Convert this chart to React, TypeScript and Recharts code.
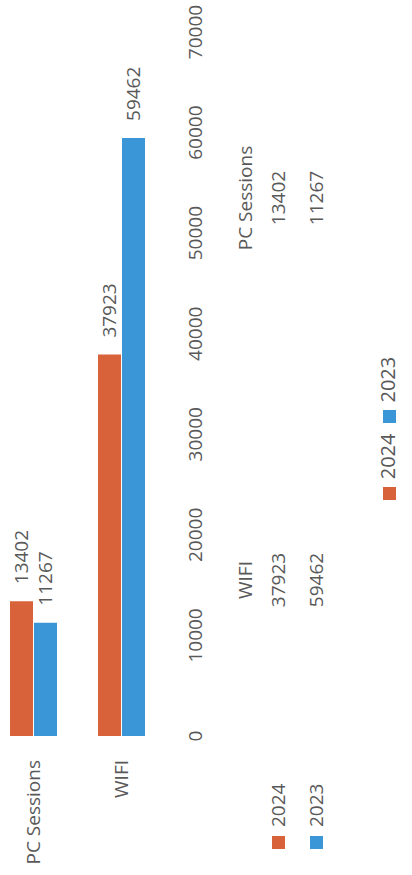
import React from 'react';
import { BarChart, Bar, XAxis, YAxis, Legend, LabelList } from 'recharts';

// ---- data ----
const categories = ['WIFI', 'PC Sessions'];
const values2024 = [37923, 13402];
const values2023 = [59462, 11267];
const seriesNames = ['2024', '2023'];
const valueTicks = [0, 10000, 20000, 30000, 40000, 50000, 60000, 70000];

const COLORS = ['#D8633B', '#3A96D6'];
const TEXT = '#595959';
const FONT = '"Open Sans", "DejaVu Sans", sans-serif';

const data = categories.map((c, i) => ({
  name: c,
  v2024: values2024[i],
  v2023: values2023[i],
}));

const seriesValues = [values2024, values2023];

// data table layout (landscape coordinates)
const tableColX = [295, 677];
const tableRowY = [245, 278, 316];

function DataTable() {
  return (
    <svg
      width={875}
      height={412}
      style={{ position: 'absolute', left: 0, top: 0, pointerEvents: 'none' }}
    >
      {categories.map((c, i) => (
        <text
          key={'h' + c}
          x={tableColX[i]}
          y={tableRowY[0]}
          dy="0.36em"
          textAnchor="middle"
          fontSize={19}
          fill={TEXT}
          fontFamily={FONT}
        >
          {c}
        </text>
      ))}
      {seriesNames.map((s, si) => (
        <g key={'r' + s}>
          <rect x={26} y={tableRowY[si + 1] - 6} width={13} height={13} fill={COLORS[si]} />
          <text
            x={48}
            y={tableRowY[si + 1]}
            dy="0.36em"
            fontSize={19}
            fill={TEXT}
            fontFamily={FONT}
          >
            {s}
          </text>
          {seriesValues[si].map((v, ci) => (
            <text
              key={'v' + ci}
              x={tableColX[ci]}
              y={tableRowY[si + 1]}
              dy="0.36em"
              textAnchor="middle"
              fontSize={19}
              fill={TEXT}
              fontFamily={FONT}
            >
              {v}
            </text>
          ))}
        </g>
      ))}
    </svg>
  );
}

export default function App() {
  return (
    <div
      style={{
        position: 'absolute',
        left: 0,
        top: 0,
        width: 412,
        height: 875,
        overflow: 'hidden',
        background: '#fff',
        fontFamily: FONT,
      }}
    >
      <div
        style={{
          position: 'absolute',
          left: 0,
          top: 0,
          width: 875,
          height: 412,
          transformOrigin: '0 0',
          transform: 'translate(0px, 875px) rotate(-90deg)',
        }}
      >
        <div style={{ position: 'absolute', left: 0, top: -11 }}>
          <BarChart
            width={875}
            height={423}
            data={data}
            layout="vertical"
            margin={{ top: 0, right: 32, left: 0, bottom: 203 }}
            barSize={23}
            barGap={1}
          >
            <XAxis
              type="number"
              domain={[0, 70000]}
              ticks={valueTicks}
              axisLine={false}
              tickLine={false}
              tickSize={0}
              tickMargin={24}
              height={44}
              interval={0}
              tick={{ fontSize: 19, fill: TEXT, fontFamily: FONT }}
            />
            <YAxis
              type="category"
              dataKey="name"
              reversed
              width={139}
              axisLine={false}
              tickLine={false}
              tickSize={0}
              tickMargin={24}
              tick={{ fontSize: 19, fill: TEXT, fontFamily: FONT }}
            />
            <Legend
              layout="horizontal"
              verticalAlign="middle"
              align="center"
              iconType="square"
              iconSize={13}
              itemSorter={(item: any) => seriesNames.indexOf(item.value)}
              wrapperStyle={{
                top: 386,
                left: 14,
                width: 875,
                fontSize: 20,
                fontFamily: FONT,
                lineHeight: '26px',
              }}
              formatter={(v: string) => <span style={{ color: TEXT, marginLeft: 4 }}>{v}</span>}
            />
            <Bar dataKey="v2024" name={seriesNames[0]} fill={COLORS[0]} isAnimationActive={false}>
              <LabelList
                dataKey="v2024"
                position="right"
                offset={17}
                fill={TEXT}
                fontSize={19}
                fontFamily={FONT}
              />
            </Bar>
            <Bar dataKey="v2023" name={seriesNames[1]} fill={COLORS[1]} isAnimationActive={false}>
              <LabelList
                dataKey="v2023"
                position="right"
                offset={17}
                fill={TEXT}
                fontSize={19}
                fontFamily={FONT}
              />
            </Bar>
          </BarChart>
        </div>
        <DataTable />
      </div>
    </div>
  );
}
